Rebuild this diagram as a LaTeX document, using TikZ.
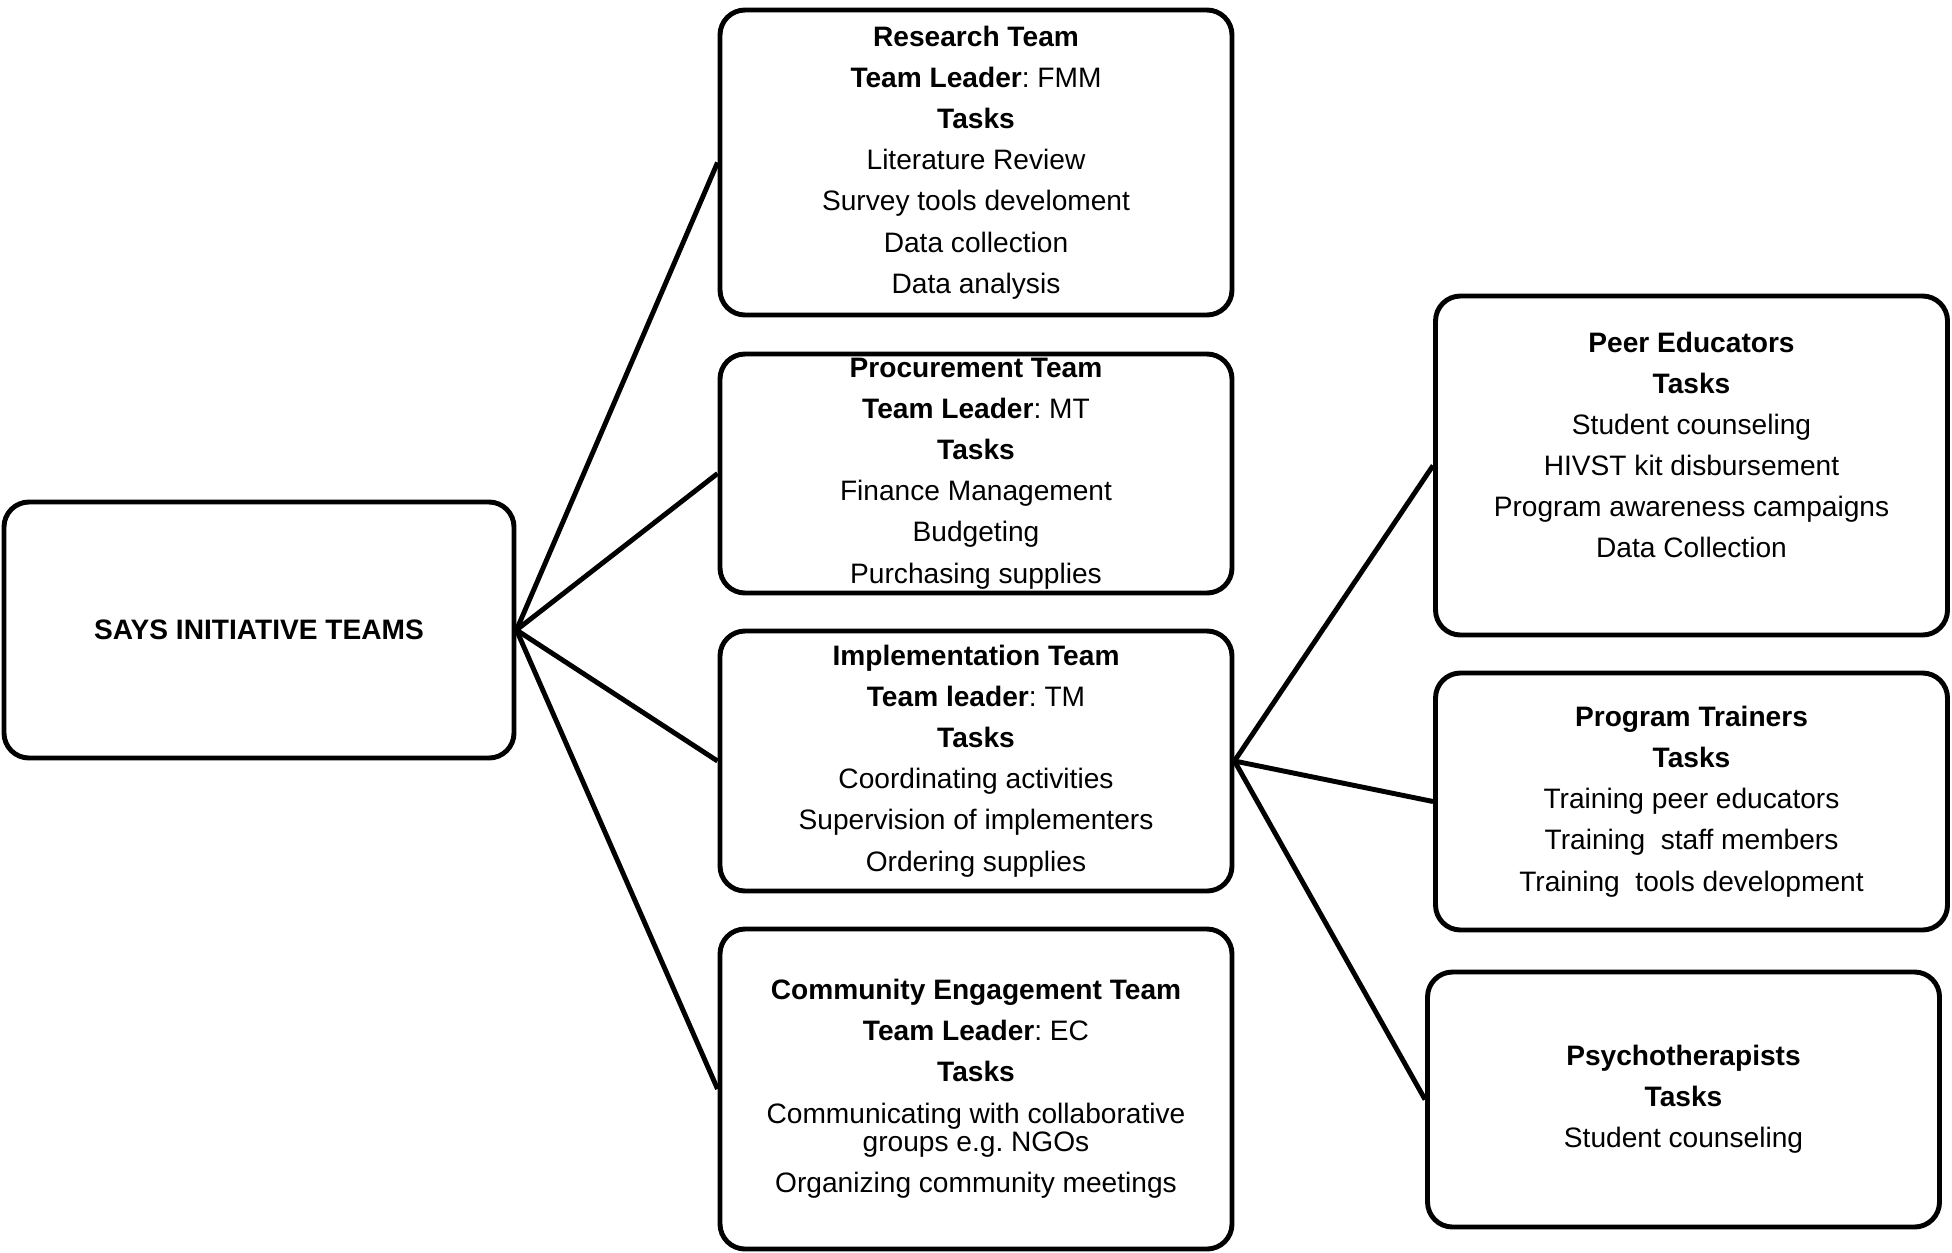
\documentclass[tikz,border=0pt]{standalone}
\usepackage{fontspec}
\setmainfont{Liberation Sans}
\frenchspacing

\begin{document}
\begin{tikzpicture}[
    teambox/.style={draw, line width=1.4pt, rounded corners=0.25cm,
        minimum width=5.12cm, inner ysep=0pt, align=center,
        font=\fontsize{8}{11.7}\selectfont},
    link/.style={line width=1.4pt},
]
    \useasboundingbox (0,0) rectangle (19.52,-12.52);
    \node[teambox, minimum width=5.1cm, minimum height=2.56cm,
        font=\fontsize{8}{11.7}\selectfont\bfseries]
        (says) at (2.59,-6.30) {SAYS INITIATIVE TEAMS};
    % teams
    \foreach \id/\xpos/\ypos/\boxh/\lines in {%
        research/9.76/-1.625/3.05/{\textbf{Research Team}\\ \textbf{Team Leader}: FMM\\ \textbf{Tasks}\\
            Literature Review\\ Survey tools develoment\\ Data collection\\ Data analysis},
        procure/9.76/-4.735/2.39/{\textbf{Procurement Team}\\ \textbf{Team Leader}: MT\\ \textbf{Tasks}\\
            Finance Management\\ Budgeting\\ Purchasing supplies},
        implement/9.76/-7.61/2.60/{\textbf{Implementation Team}\\ \textbf{Team leader}: TM\\ \textbf{Tasks}\\
            Coordinating activities\\ Supervision of implementers\\ Ordering supplies},
        community/9.76/-10.89/3.20/{\textbf{Community Engagement Team}\\ \textbf{Team Leader}: EC\\ \textbf{Tasks}\\
            Communicating with collaborative\\[-3.5pt] groups e.g. NGOs\\ Organizing community meetings},
        peer/16.915/-4.655/3.39/{\textbf{Peer Educators}\\ \textbf{Tasks}\\ Student counseling\\
            HIVST kit disbursement\\ Program awareness campaigns\\ Data Collection\\ ~},
        trainers/16.915/-8.015/2.57/{\textbf{Program Trainers}\\ \textbf{Tasks}\\ Training peer educators\\
            Training\ \ staff members\\ Training\ \ tools development},
        psycho/16.835/-10.995/2.55/{\textbf{Psychotherapists}\\ \textbf{Tasks}\\ Student counseling}%
    }{
        \node[teambox, minimum height=\boxh cm] (\id) at (\xpos,\ypos) {\lines};
    }
    \foreach \id in {research,procure,implement,community}
        \draw[link] (says.east) -- (\id.west);
    \foreach \id in {peer,trainers,psycho}
        \draw[link] (implement.east) -- (\id.west);
\end{tikzpicture}
\end{document}
